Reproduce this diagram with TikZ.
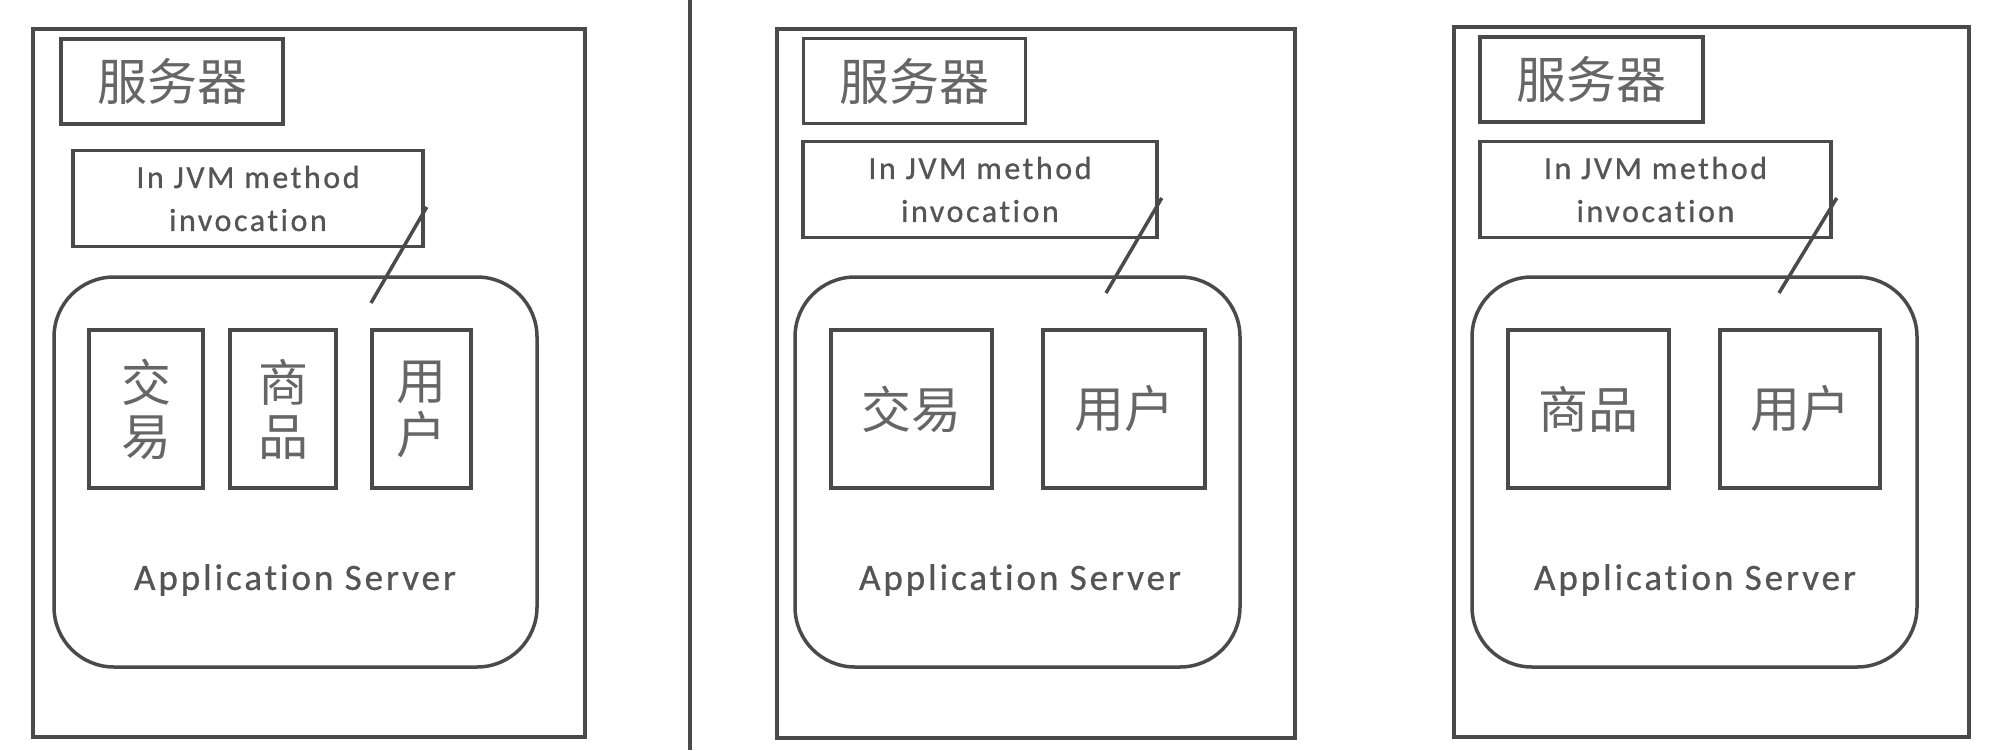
\documentclass[tikz,border=0pt]{standalone}
\usepackage{fontspec}
\setmainfont{Carlito}
\newfontfamily\cjk{Noto Sans CJK SC}
\newfontfamily\lbl[LetterSpace=8, Ligatures=NoCommon, FakeBold=0.8]{Carlito}
\usetikzlibrary{positioning}
\definecolor{ink}{HTML}{4A4A4A}
\definecolor{txt}{HTML}{555555}
\definecolor{cjktxt}{HTML}{666666}

\begin{document}
\begin{tikzpicture}[x=1pt, y=-1pt]

\tikzstyle{frame}=[rectangle, draw=ink, line width=3.5pt, inner sep=0pt]
\tikzstyle{srvbox}=[frame, minimum width=222pt, minimum height=85pt, text=cjktxt, font=\cjk\fontsize{50}{54}\selectfont]
\tikzstyle{jvmbox}=[frame, minimum height=96pt, align=center, text=txt, font=\lbl\fontsize{32}{43}\selectfont]
\tikzstyle{appbox}=[frame, rounded corners=60pt, minimum height=390pt]
\tikzstyle{mod}=[frame, minimum height=158pt, align=center, text=cjktxt, font=\cjk\fontsize{50}{54}\selectfont]
\tikzstyle{apptext}=[text=txt, font=\lbl\fontsize{37}{40}\selectfont]
\tikzstyle{link}=[draw=ink, line width=3.5pt]

\useasboundingbox (0,0) rectangle (2012,750);

\coordinate (top) at (690,0);
\coordinate (bot) at (690,750);
\draw [link] (top) -- (bot);

\node (P1) [frame, minimum width=552pt, minimum height=708pt] at (309,383) {};
\node (S1) [srvbox] at (172,81.5) {服务器};
\node (J1) [jvmbox, minimum width=350pt] at (248,198.5) {In JVM method\\invocation};
\node (AS1) [appbox, minimum width=483pt] at (295.5,472) {};
\node (T1) [mod, minimum width=114pt] at (146,409) {交\\易};
\node (G1) [mod, minimum width=106pt] at (283,409) {商\\品};
\node (U1) [mod, minimum width=99pt] at (421.5,409) {用\\户};
\node (L1) [apptext] at (295,580) {Application Server};
\coordinate (F1) at (371,303);
\draw [link] (F1) -- ([xshift=2pt, yshift=-8.5pt]J1.east);

\node (P2) [frame, minimum width=518pt, minimum height=709pt] at (1036,383.5) {};
\node (S2) [srvbox] at (914.5,81) {服务器};
\node (J2) [jvmbox, minimum width=354pt] at (980,189.5) {In JVM method\\invocation};
\node (AS2) [appbox, minimum width=445pt] at (1017.5,472) {};
\node (T2) [mod, minimum width=161pt] at (911.5,409) {交易};
\node (U2) [mod, minimum width=162pt] at (1124,409) {用户};
\node (L2) [apptext] at (1020,580) {Application Server};
\coordinate (F2) at (1106,293);
\draw [link] (F2) -- ([xshift=3pt, yshift=-8.5pt]J2.east);

\node (P3) [frame, minimum width=515pt, minimum height=710pt] at (1711.5,382) {};
\node (S3) [srvbox, minimum width=223pt] at (1591.5,79.5) {服务器};
\node (J3) [jvmbox, minimum width=351pt] at (1655.5,189.5) {In JVM method\\invocation};
\node (AS3) [appbox, minimum width=445pt] at (1694.5,472) {};
\node (G3) [mod, minimum width=161pt] at (1588.5,409) {商品};
\node (U3) [mod, minimum width=160pt] at (1800,409) {用户};
\node (L3) [apptext] at (1695,580) {Application Server};
\coordinate (F3) at (1779,293);
\draw [link] (F3) -- ([xshift=4pt, yshift=-8.5pt]J3.east);

\end{tikzpicture}
\end{document}
